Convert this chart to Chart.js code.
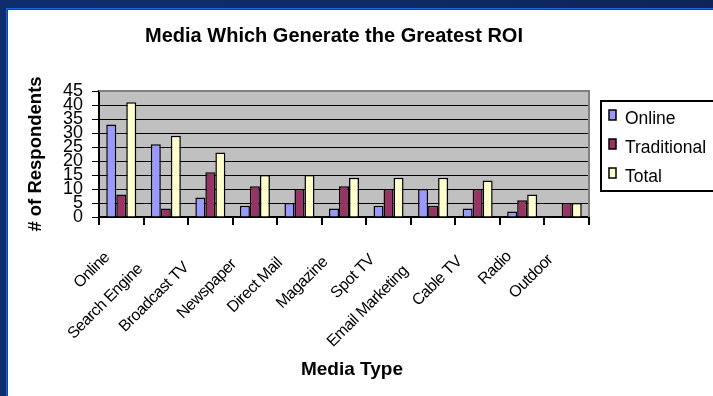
<!DOCTYPE html>
<html>
<head>
<meta charset="utf-8">
<script src="https://cdn.jsdelivr.net/npm/chart.js@4.4.1/dist/chart.umd.min.js"></script>
<style>
  html, body { margin: 0; padding: 0; width: 713px; height: 396px; overflow: hidden; }
  body { background: linear-gradient(90deg, #0f2c6d 0%, #0f2963 60%, #0f2358 100%); position: relative; }
  .panel {
    position: absolute; left: 6px; top: 8px; width: 720px; height: 400px;
    background: #fff; border: 1px solid #1767dc; box-shadow: inset 1px 1px 0 #0b44a8;
  }
  #chart { position: absolute; left: 0; top: 0; }
</style>
</head>
<body>
<div class="panel"></div>
<canvas id="chart" width="713" height="396"></canvas>
<script>
const mediaTypes = ["Online", "Search Engine", "Broadcast TV", "Newspaper", "Direct Mail",
  "Magazine", "Spot TV", "Email Marketing", "Cable TV", "Radio", "Outdoor"];
const onlineVotes = [33, 26, 7, 4, 5, 3, 4, 10, 3, 2, 0];
const traditionalVotes = [8, 3, 16, 11, 10, 11, 10, 4, 10, 6, 5];
const totalVotes = [41, 29, 23, 15, 15, 14, 14, 14, 13, 8, 5];
const yTicks = [0, 5, 10, 15, 20, 25, 30, 35, 40, 45];

const FONT = "'Liberation Sans', Arial, sans-serif";
const seriesColors = ["#9999ff", "#993366", "#ffffcc"];

// grey plot area, grey frame on top/right, titles, rotated category names and boxed legend
const excelLook = {
  id: "excelLook",
  beforeDraw(chart) {
    const { ctx, chartArea: a } = chart;
    ctx.save();
    ctx.fillStyle = "#c0c0c0";
    ctx.fillRect(a.left, a.top, a.right - a.left, a.bottom - a.top);
    ctx.restore();
  },
  afterDraw(chart) {
    const { ctx, chartArea: a } = chart;
    const x = chart.scales.x;
    ctx.save();

    ctx.strokeStyle = "#808080";
    ctx.lineWidth = 2;
    ctx.beginPath();
    ctx.moveTo(a.left, a.top);
    ctx.lineTo(a.right, a.top);
    ctx.lineTo(a.right, a.bottom);
    ctx.stroke();

    ctx.fillStyle = "#000";
    ctx.textAlign = "center";
    ctx.textBaseline = "middle";
    ctx.font = "bold 20px " + FONT;
    ctx.fillText("Media Which Generate the Greatest ROI", 334, 36);
    ctx.font = "bold 19px " + FONT;
    ctx.fillText("Media Type", 352, 370);

    // category names, slanted 45deg; longer names sit further down-left
    ctx.font = "16px " + FONT;
    ctx.letterSpacing = "-0.5px";
    ctx.textAlign = "right";
    mediaTypes.forEach((name, i) => {
      const cx = x.getPixelForValue(i);
      const w = ctx.measureText(name).width;
      const k = 5 + 0.21 * w;
      ctx.save();
      ctx.translate(cx - k, a.bottom + 24 + k);
      ctx.rotate(-Math.PI / 4);
      ctx.fillText(name, 0, 0);
      ctx.restore();
    });
    ctx.letterSpacing = "0px";

    // legend
    const lx = 601, ly = 101;
    ctx.strokeStyle = "#000";
    ctx.lineWidth = 2;
    ctx.strokeRect(lx, ly, 200, 90);
    ctx.font = "17.5px " + FONT;
    ctx.textAlign = "left";
    chart.data.datasets.forEach((ds, i) => {
      const ty = 118 + i * 29;
      ctx.fillStyle = ds.backgroundColor;
      ctx.fillRect(609, ty - 8, 7, 10);
      ctx.lineWidth = 1.5;
      ctx.strokeRect(609, ty - 8, 7, 10);
      ctx.fillStyle = "#000";
      ctx.fillText(ds.label, 625, ty + 1);
    });
    ctx.restore();
  }
};

new Chart(document.getElementById("chart"), {
  type: "bar",
  data: {
    labels: mediaTypes,
    datasets: [
      { label: "Online", data: onlineVotes },
      { label: "Traditional", data: traditionalVotes },
      { label: "Total", data: totalVotes }
    ].map((d, i) => ({
      ...d,
      backgroundColor: seriesColors[i],
      borderColor: "#000",
      borderWidth: 1.5,
      borderSkipped: "bottom",
      barPercentage: 1,
      categoryPercentage: 0.674
    }))
  },
  options: {
    responsive: false,
    devicePixelRatio: 1,
    animation: false,
    layout: { padding: { left: 0, top: 91, right: 124, bottom: 0 } },
    plugins: {
      legend: { display: false },
      title: { display: false },
      tooltip: { enabled: false }
    },
    scales: {
      x: {
        afterFit: s => { s.height = 179; },
        ticks: { display: false },
        grid: { offset: true, drawOnChartArea: false, tickLength: 8, color: "#000", lineWidth: 2 },
        border: { color: "#000", width: 2 }
      },
      y: {
        min: 0,
        max: 45,
        afterFit: s => { s.width = 99; },
        afterBuildTicks: s => { s.ticks = yTicks.map(v => ({ value: v })); },
        ticks: { color: "#000", padding: 9, autoSkip: false, font: { family: FONT, size: 18 } },
        grid: {
          color: c => (c.tick && c.tick.value === 45 ? "#808080" : "#000"),
          tickColor: "#000",
          tickLength: 7,
          lineWidth: 1
        },
        border: { color: "#000", width: 2 },
        title: {
          display: true,
          text: "# of Respondents",
          color: "#000",
          font: { family: FONT, size: 18.5, weight: "bold" },
          padding: { top: 25, bottom: 0 }
        }
      }
    }
  },
  plugins: [excelLook]
});
</script>
</body>
</html>
